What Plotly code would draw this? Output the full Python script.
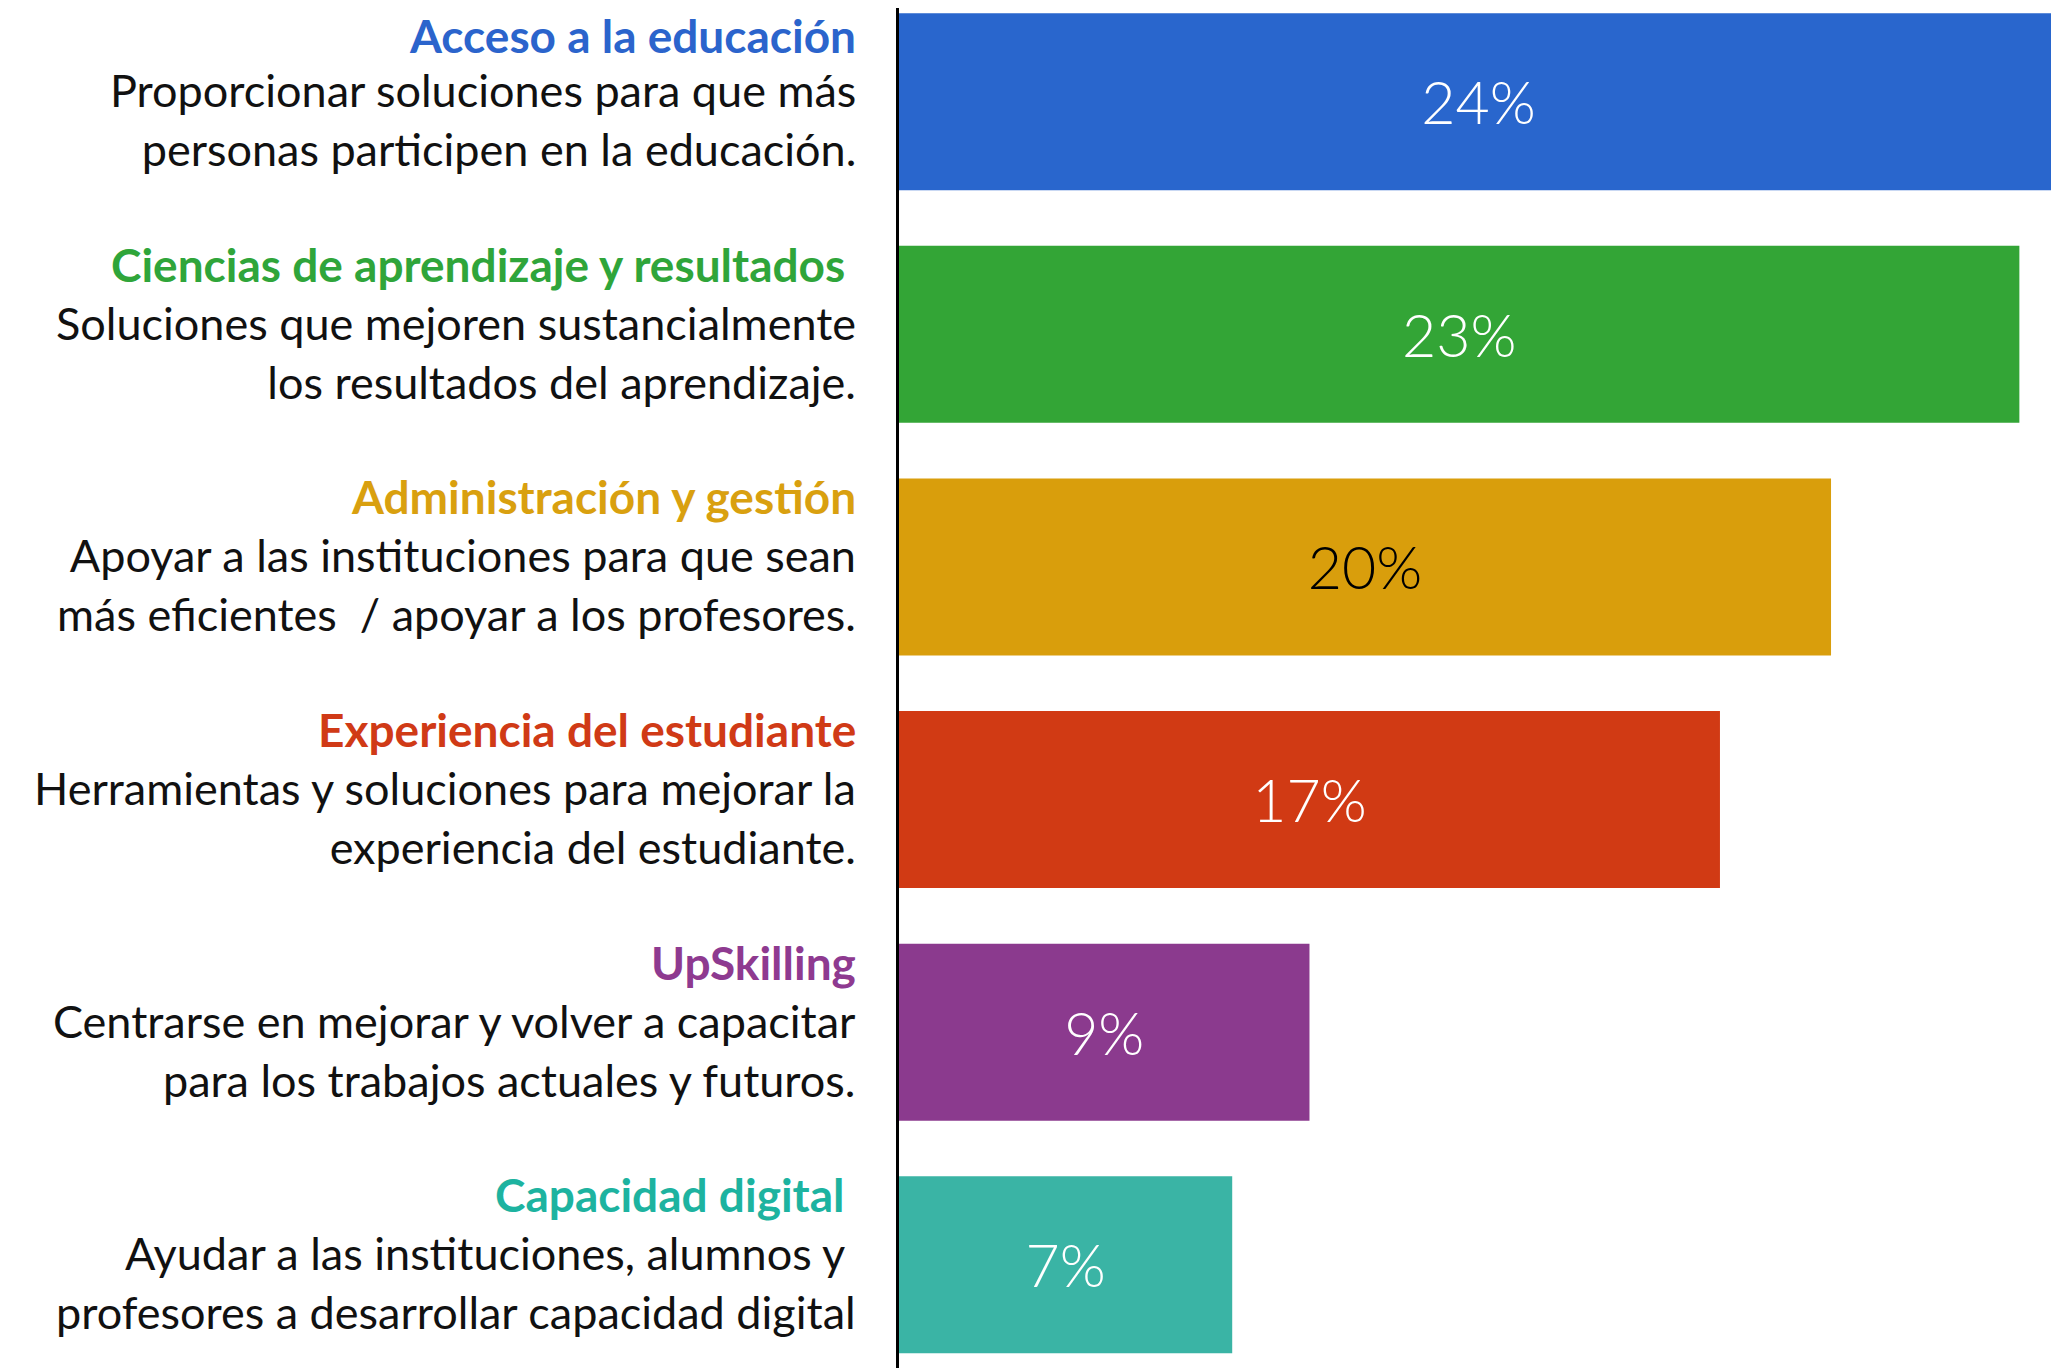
import plotly.graph_objects as go

categories = ["Acceso a la educación", "Ciencias de aprendizaje y resultados",
              "Administración y gestión", "Experiencia del estudiante",
              "UpSkilling", "Capacidad digital"]
titles = ["Acceso a la educación", "Ciencias de aprendizaje y resultados\u00a0",
          "Administración y gestión", "Experiencia del estudiante",
          "UpSkilling", "Capacidad digital\u00a0"]
descriptions = [
    "Proporcionar soluciones para que más<br>personas participen en la educación.",
    "Soluciones que mejoren sustancialmente<br>los resultados del aprendizaje.",
    "Apoyar a las instituciones para que sean<br>más eficientes \u00a0/ apoyar a los profesores.",
    "Herramientas y soluciones para mejorar la<br>experiencia del estudiante.",
    "Centrarse en mejorar y volver a capacitar<br>para los trabajos actuales y futuros.",
    "Ayudar a las instituciones, alumnos y\u00a0<br>profesores a desarrollar capacidad digital",
]
# bar lengths as drawn (percent)
values = [24.0, 23.2, 19.3, 17.0, 8.5, 6.9]
value_labels = ["24%", "23%", "20%", "17%", "9%", "7%"]
bar_colors = ["#2966CD", "#33A536", "#D99E0C", "#D13A14", "#8B3A8E", "#3AB4A5"]
title_colors = ["#2B64CC", "#2FA53A", "#D9A00F", "#D03A16", "#8E3A90", "#1DB3A0"]
text_colors = ["white", "white", "black", "white", "white", "white"]

fig = go.Figure()
fig.add_trace(go.Bar(
    x=values, y=categories, orientation="h",
    marker=dict(color=bar_colors, line=dict(width=0)),
    text=value_labels, textposition="inside", insidetextanchor="middle",
    textangle=0,
    textfont=dict(family="Lato", size=59, color=text_colors, weight=300),
    hoverinfo="skip",
))

FONT = "Lato"
for i, (cat, t, d, c) in enumerate(zip(categories, titles, descriptions, title_colors)):
    fig.add_annotation(xref="paper", yref="y", x=0, y=cat, xanchor="right",
                       yanchor="middle", xshift=-42, yshift=66 if i == 0 else 70,
                       showarrow=False,
                       align="right", text=f"<b>{t}</b>", borderpad=0,
                       font=dict(family=FONT, size=46, color=c))
    fig.add_annotation(xref="paper", yref="y", x=0, y=cat, xanchor="right",
                       yanchor="middle", xshift=-42, yshift=-18, showarrow=False,
                       align="right", text=d, borderpad=0,
                       font=dict(family=FONT, size=45, color="#111111"))

fig.update_layout(
    width=2059, height=1368,
    margin=dict(l=891, r=9, t=0, b=0),
    paper_bgcolor="white", plot_bgcolor="white",
    bargap=0.239, showlegend=False,
    xaxis=dict(range=[0, 24], visible=False, fixedrange=True),
    yaxis=dict(range=[5.478, -0.403], showticklabels=False, showgrid=False,
               zeroline=False, showline=True, linecolor="black", linewidth=3,
               ticks=""),
)
fig.write_html("out.html")
